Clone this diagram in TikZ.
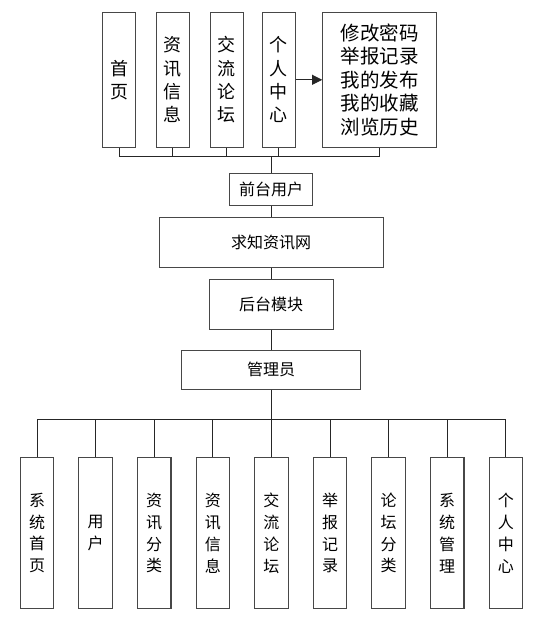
\documentclass[tikz,border=0pt]{standalone}
\usepackage{fontspec}
\newfontfamily\cjk{Noto Sans CJK SC}
\usetikzlibrary{arrows.meta}
\begin{document}
\begin{tikzpicture}[x=1pt,y=-1pt,
  box/.style={draw=black!72, line width=1.1pt, fill=white, inner sep=0pt, align=center},
  tbox/.style={box, minimum width=33.4pt, minimum height=135pt, font=\cjk\fontsize{18}{23.3}\selectfont},
  bbox/.style={box, minimum width=33.5pt, minimum height=150.6pt, font=\cjk\fontsize{16}{21.9}\selectfont},
  mbox/.style={box, font=\cjk\fontsize{16}{18}\selectfont},
  conn/.style={draw=black!85, line width=0.9pt}]
\useasboundingbox (0,0) rectangle (534,622);
% top row
\node[tbox] (t1) at (119,79.8) {首\\页};
\node[tbox] (t2) at (172.8,79.8) {资\\讯\\信\\息};
\node[tbox] (t3) at (226.8,79.8) {交\\流\\论\\坛};
\node[tbox] (t4) at (278.8,79.8) {个\\人\\中\\心};
\node[box, minimum width=114pt, minimum height=135pt, font=\cjk\fontsize{19.5}{23.6}\selectfont] (t5) at (379.7,79.8)
  {修改密码\\举报记录\\我的发布\\我的收藏\\浏览历史};
% middle column
\node[mbox, minimum width=83.4pt, minimum height=31.7pt] (front) at (271.2,189.2) {前台用户};
\node[mbox, minimum width=224.3pt, minimum height=50pt] (qz) at (271.2,242.3) {求知资讯网};
\node[mbox, minimum width=124.3pt, minimum height=50.3pt] (ht) at (271.2,304.2) {后台模块};
\node[mbox, minimum width=179pt, minimum height=38.7pt] (gl) at (271.2,369.7) {管理员};
% bottom row
\foreach \t [count=\i from 0] in {{系\\统\\首\\页},{用\\户},{资\\讯\\分\\类},{资\\讯\\信\\息},{交\\流\\论\\坛},{举\\报\\记\\录},{论\\坛\\分\\类},{系\\统\\管\\理},{个\\人\\中\\心}}
  \node[bbox] (b\i) at ({37+58.6*\i},533) {\t};
% top connectors
\coordinate (tb) at (271.2,156.7);
\draw[conn] (t1.south) -- (t1.south |- tb) -- (t5.south |- tb) -- (t5.south);
\foreach \k in {2,3,4} \draw[conn] (t\k.south) -- (t\k.south |- tb);
\draw[conn] (tb) -- (front.north);
\draw[conn, -{Triangle[length=10pt,width=10pt]}] (t4.east) -- (t5.west);
% middle connectors
\draw[conn] (front.south) -- (qz.north);
\draw[conn] (qz.south) -- (ht.north);
\draw[conn] (ht.south) -- (gl.north);
% bottom connectors
\coordinate (bb) at (271.2,419);
\draw[conn] (b0.north) -- (b0.north |- bb) -- (b8.north |- bb) -- (b8.north);
\foreach \k in {1,...,7} \draw[conn] (b\k.north) -- (b\k.north |- bb);
\draw[conn] (gl.south) -- (bb);
\end{tikzpicture}
\end{document}
